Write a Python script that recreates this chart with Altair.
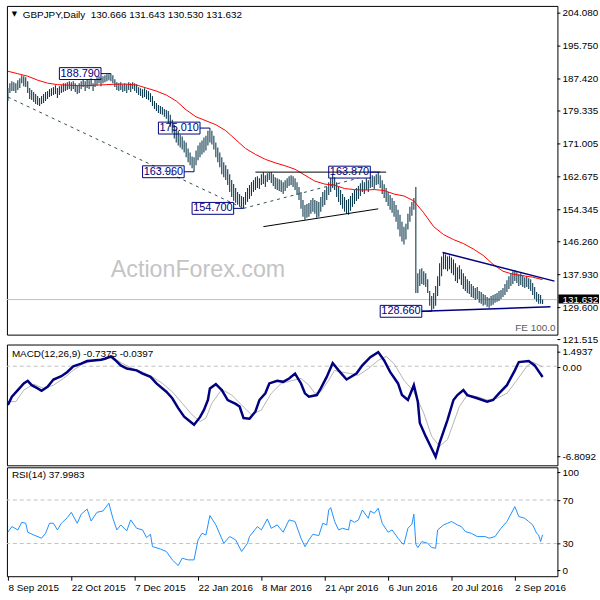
import json
import altair as alt
import pandas as pd

FONT = "Liberation Sans"
BAR_COLOR = "#0e3a4e"
NAVY = "#000080"

# ---------------- daily bars (bar 0 = 8 Sep 2015) ----------------
high = [
    185.12, 186.37, 186.87, 186.62, 186.37, 187.12, 187.62, 188.37, 188.12, 187.87,
    186.87, 185.12, 184.62, 184.12, 183.62, 183.12, 182.62, 183.12, 183.62, 184.12,
    184.37, 184.87, 185.12, 185.37, 185.87, 185.12, 185.62, 185.87, 186.37, 186.37,
    186.62, 186.87, 186.62, 186.87, 186.37, 185.87, 186.37, 186.87, 187.37, 186.87,
    187.37, 187.12, 187.62, 186.37, 187.37, 187.87, 188.12, 187.62, 188.12, 188.37,
    188.62, 188.62, 188.79, 188.37, 187.37, 186.62, 186.37, 186.62, 186.12, 186.37,
    186.12, 186.62, 186.37, 186.62, 186.37, 186.12,
    185.35, 185.10, 184.85, 185.10, 184.60, 184.35, 183.85, 183.10, 181.85, 181.35,
    180.85, 180.60, 180.35, 179.85, 179.60, 179.35, 178.35, 177.10, 175.85, 174.85,
    174.35, 173.35, 172.85, 171.85, 171.35, 169.85, 168.85, 167.85, 167.60, 169.35,
    170.60, 171.35, 171.85, 172.60, 173.10, 174.35, 175.01, 174.35, 173.10, 171.35,
    170.10, 168.85, 167.60, 166.35, 165.60, 164.60, 163.35, 161.85, 160.85, 159.85,
    158.85, 158.35, 157.85, 157.60, 158.85, 159.85, 160.60, 161.35, 161.85, 162.60,
    162.85, 162.35, 163.35, 163.85, 163.10, 163.60, 163.80, 163.85, 163.35, 162.60,
    162.35,
    162.08, 161.83, 161.33, 161.83, 162.33, 162.83, 163.08, 162.83, 162.33, 161.33,
    160.08, 158.83, 156.83, 155.58, 155.83, 156.08, 156.83, 157.33, 156.83, 156.58,
    156.33, 157.58, 158.83, 159.33, 160.08, 161.33, 162.33, 163.33, 162.58, 161.33,
    160.08, 159.33, 158.33, 157.58, 156.83, 157.08, 157.83, 158.58, 159.33, 159.83,
    160.33, 161.08, 161.83, 161.33, 162.33, 161.83, 162.58, 163.08, 162.83, 163.33,
    163.87, 163.08, 161.83, 160.83, 159.83, 158.83, 158.08, 157.33, 156.58, 155.58,
    154.33, 153.08, 151.33, 150.08, 150.83, 153.33, 155.08, 156.33, 157.33, 160.08,
    138.30, 139.30, 139.55, 138.80, 138.30, 136.80, 133.80, 132.55, 133.30, 135.05,
    137.55, 140.80, 142.55, 143.55, 143.05, 142.55, 142.80, 142.30, 141.80, 140.80,
    139.80, 140.30, 139.30, 138.30, 137.55, 136.80, 136.30, 135.55, 135.05, 134.55,
    134.80, 133.80, 133.55, 133.05, 132.80, 132.30, 132.05, 132.55, 132.80, 133.05,
    133.30, 133.80, 134.05, 134.55, 135.55, 136.55, 137.55, 138.30, 138.80, 139.05,
    138.55, 138.05, 138.30, 137.80, 137.30, 137.55, 137.05, 136.80, 135.80, 134.80,
    133.55, 133.05, 132.80, 131.643,
]
low = [
    181.87, 183.87, 184.37, 184.37, 183.87, 184.62, 185.12, 186.37, 185.62, 185.37,
    183.87, 182.37, 182.12, 181.62, 181.12, 180.87, 180.62, 181.12, 181.37, 181.87,
    182.37, 182.87, 183.12, 183.37, 183.62, 182.62, 183.37, 183.87, 184.12, 184.37,
    184.62, 184.87, 184.37, 184.87, 184.12, 183.62, 183.87, 184.87, 185.37, 184.37,
    185.12, 184.87, 185.62, 184.37, 185.37, 185.87, 186.37, 185.62, 186.37, 186.62,
    186.87, 187.12, 186.87, 186.37, 185.37, 184.62, 184.37, 184.62, 184.12, 184.37,
    183.87, 184.62, 184.12, 184.87, 184.37, 183.87,
    183.35, 183.10, 182.60, 182.85, 182.35, 182.10, 181.60, 180.60, 179.85, 179.35,
    178.85, 178.60, 178.35, 177.85, 177.35, 176.35, 175.35, 173.85, 172.35, 171.35,
    170.60, 170.10, 169.60, 168.85, 167.60, 166.35, 165.60, 164.85, 163.96, 165.60,
    166.85, 167.60, 168.35, 168.85, 169.35, 170.60, 171.35, 170.85, 169.60, 167.60,
    166.35, 165.10, 163.35, 162.60, 161.85, 160.60, 158.85, 157.60, 156.60, 156.10,
    155.60, 155.10, 155.10, 154.70, 155.60, 156.35, 157.10, 157.85, 158.85, 159.35,
    159.85, 159.60, 160.60, 160.85, 160.10, 161.35, 161.85, 161.10, 160.35, 159.60,
    159.35,
    159.08, 158.83, 158.33, 159.08, 159.83, 160.33, 160.58, 160.08, 159.33, 158.08,
    156.83, 154.58, 152.58, 151.83, 152.33, 152.58, 153.33, 153.83, 153.33, 152.33,
    152.58, 153.83, 155.08, 155.58, 156.83, 158.08, 158.83, 159.83, 159.33, 157.58,
    156.33, 155.58, 154.58, 153.83, 153.33, 153.08, 154.08, 155.08, 155.83, 156.58,
    157.08, 157.83, 158.83, 158.33, 159.33, 158.83, 159.83, 160.08, 159.58, 160.58,
    160.83, 159.83, 158.33, 157.33, 156.33, 155.33, 154.33, 153.58, 152.58, 151.33,
    149.33, 147.58, 146.33, 145.58, 146.83, 149.33, 151.33, 152.83, 154.33, 133.30,
    133.30, 135.05, 135.55, 135.30, 134.80, 133.30, 130.05, 128.66, 129.30, 130.05,
    132.55, 135.05, 137.55, 139.30, 139.30, 138.80, 139.30, 138.30, 137.80, 136.30,
    135.80, 136.80, 135.30, 134.30, 133.80, 133.30, 133.05, 132.30, 132.05, 131.55,
    131.80, 130.80, 130.55, 130.05, 130.30, 129.80, 129.55, 130.05, 130.30, 130.80,
    131.05, 131.30, 131.80, 132.30, 132.80, 133.55, 134.30, 135.05, 135.55, 136.30,
    135.80, 135.05, 135.30, 134.80, 134.55, 134.80, 134.30, 133.80, 132.80, 131.80,
    131.05, 130.55, 130.55, 130.53,
]
last_close = 131.632

# ---------------- moving average (red) ----------------
ma_bar = list(range(0, 271, 5))
ma_val = [
    189.38, 188.76, 188.13, 187.13, 186.38, 186.00, 185.88, 185.75, 185.75, 185.88,
    186.00, 186.13, 186.13, 185.88, 185.13, 184.37, 183.37, 181.87, 179.62, 177.86,
    176.86, 175.86, 174.36, 172.10, 169.85, 168.35, 167.10, 166.22, 165.47, 164.59,
    163.09, 161.59, 160.84, 160.58, 159.71, 159.46, 159.33, 159.46, 159.21, 158.33,
    157.83, 156.58, 153.57, 150.07, 148.07, 146.81, 145.81, 144.43, 142.81, 140.55,
    138.80, 138.05, 137.67, 137.30, 136.67,
]

# ---------------- MACD(12,26,9) ----------------
macd_bar = [0, 2, 5, 8, 10, 12, 15, 17, 20, 23, 27, 30, 33, 37, 40, 43, 47, 49, 52, 54,
            57, 60, 65, 68, 72, 75, 80, 83, 86, 89, 92, 94, 97, 99, 101, 102, 105, 108, 111, 115,
            117, 119, 122, 125, 127, 130, 132, 136, 139, 142, 145, 148, 150, 152, 156, 158, 161, 164, 167, 171,
            176, 179, 183, 187, 190, 193, 197, 199, 202, 205, 207, 208, 211, 213, 216, 218, 222, 225, 227, 230,
            232, 237, 242, 245, 248, 252, 256, 258, 263, 266, 270]
macd_val = [-2.66, -2.09, -1.64, -1.18, -1.00, -1.30, -1.52, -1.69, -1.41, -0.91, -0.68, -0.39, 0.00, 0.18, 0.36, 0.40, 0.45, 0.52, 0.68, 0.45,
            0.06, -0.16, -0.28, -0.50, -0.73, -1.18, -1.75, -2.20, -2.88, -3.46, -3.80, -4.02, -3.50, -3.00, -2.32, -1.52, -1.23, -1.64, -2.32, -2.59,
            -2.77, -3.56, -3.61, -3.11, -2.32, -1.86, -1.18, -1.00, -1.07, -0.84, -0.50, -1.18, -1.86, -2.09, -1.98, -1.52, -0.73, 0.22, -0.28, -0.91,
            -0.50, 0.06, 0.63, 0.97, 0.40, -0.39, -1.18, -1.98, -2.32, -1.30, -2.43, -3.90, -4.82, -5.38, -6.22, -5.27, -3.68, -2.32, -1.98, -1.64,
            -1.98, -2.20, -2.43, -2.32, -1.86, -1.30, -0.28, 0.29, 0.36, 0.06, -0.7375]
sig_bar = [0, 4, 8, 13, 18, 23, 28, 33, 38, 43, 48, 53, 58, 63, 68, 73, 78, 83, 88, 93,
           97, 100, 103, 108, 113, 118, 123, 128, 133, 138, 143, 148, 152, 155, 158, 162, 165, 168, 173, 177,
           182, 187, 191, 195, 200, 205, 210, 214, 218, 222, 225, 228, 232, 237, 242, 247, 252, 257, 262, 265, 270]
sig_val = [-2.43, -2.43, -1.64, -1.23, -1.52, -1.30, -0.84, -0.28, 0.18, 0.36, 0.47, 0.59, 0.18, -0.16, -0.39, -0.73, -1.18, -1.75, -2.54, -3.34,
           -3.80, -3.56, -2.54, -1.59, -1.98, -2.66, -3.34, -3.00, -1.86, -1.18, -1.00, -0.84, -1.30, -1.86, -1.75, -0.96, -0.28, -0.39, -0.50, -0.62,
           -0.16, 0.40, 0.68, 0.18, -0.96, -1.75, -3.22, -4.82, -5.50, -5.04, -3.90, -2.77, -1.98, -2.09, -2.32, -2.20, -1.86, -0.96, -0.02, 0.29, -0.0397]

# ---------------- RSI(14) ----------------
rsi_bar = [0, 2, 5, 7, 9, 10, 13, 17, 19, 21, 23, 25, 27, 30, 32, 35, 37, 40, 42, 45,
           48, 51, 53, 55, 57, 60, 62, 65, 68, 70, 72, 73, 77, 80, 83, 86, 88, 91, 94, 96,
           98, 100, 102, 105, 109, 112, 115, 118, 121, 122, 126, 128, 131, 133, 136, 139, 142, 145, 148, 150,
           152, 154, 157, 159, 161, 162, 163, 165, 167, 169, 172, 173, 175, 177, 179, 182, 183, 185, 187, 189,
           192, 194, 197, 199, 200, 202, 204, 205, 206, 207, 209, 212, 214, 216, 217, 220, 222, 224, 227, 229,
           231, 234, 237, 241, 243, 246, 249, 252, 256, 258, 261, 263, 265, 267, 268, 269, 270]
rsi_val = [40.4, 45.6, 42.5, 49.5, 48.6, 40.4, 37.9, 34.9, 39.4, 48.6, 48.6, 42.5, 48.6, 53.8, 58.7, 48.6, 56.9, 61.7, 50.7, 58.7,
           59.9, 67.0, 53.2, 42.5, 47.1, 41.6, 51.7, 44.0, 42.5, 35.5, 38.5, 27.2, 25.0, 22.7, 15.0, 9.8, 16.5, 15.0, 15.0, 33.3,
           39.4, 37.9, 55.7, 47.1, 30.3, 36.4, 33.3, 22.7, 30.3, 36.4, 45.6, 42.5, 52.6, 44.0, 47.1, 40.4, 51.7, 50.2, 34.9, 27.2,
           33.3, 38.5, 37.3, 48.6, 47.1, 60.8, 63.0, 50.2, 42.5, 44.0, 42.5, 51.7, 49.5, 51.7, 60.8, 53.2, 59.9, 57.8, 62.4, 48.6,
           40.4, 42.5, 34.9, 30.3, 29.4, 44.0, 47.7, 56.9, 29.4, 26.3, 31.8, 30.3, 26.3, 25.7, 42.5, 47.1, 48.6, 50.2, 47.1, 45.6,
           41.0, 39.4, 36.4, 36.4, 34.9, 36.4, 44.0, 50.2, 63.9, 54.8, 53.2, 50.2, 47.1, 39.4, 37.9, 31.8, 37.9983]

# ---------------- annotations ----------------
ann_text = ["188.790", "175.010", "163.960", "154.700", "163.870", "128.660"]
ann_price = [188.79, 175.01, 163.96, 154.70, 163.87, 128.66]
ann_bar = [52, 102, 94, 119, 188, 214]

# trend lines: start bar, start price, end bar, end price
tl_b1 = [0, 119, 129, 125, 219.5, 209]
tl_p1 = [182.85, 154.70, 150.08, 163.87, 143.55, 128.66]
tl_b2 = [119, 177, 187, 191, 276, 274]
tl_p2 = [154.70, 162.34, 154.58, 163.87, 136.30, 129.80]
tl_color = ["#2f4f4f", "#2f4f4f", "#000000", "#000000", NAVY, NAVY]
tl_dash = [[3, 4], [3, 4], [], [], [], []]
tl_width = [1, 1, 1, 1, 1.5, 1.5]

price_lbl_val = [204.080, 195.750, 187.420, 179.335, 171.005, 162.675,
                 154.345, 146.260, 137.930, 129.600, 121.515]

macd_lbl_val = [1.4937, 0.0, -6.8092]
macd_lbl_txt = ["1.4937", "0.00", "-6.8092"]
rsi_lbl_val = [100, 70, 30, 0]
rsi_lbl_txt = ["100", "70", "30", "0"]
rsi_levels = [70, 30]

date_bars = [0, 32, 64, 96, 128, 160, 192, 224, 256]
date_labels = ["8 Sep 2015", "22 Oct 2015", "7 Dec 2015", "22 Jan 2016", "8 Mar 2016",
               "21 Apr 2016", "6 Jun 2016", "20 Jul 2016", "2 Sep 2016"]

main_title = "GBPJPY,Daily\u00a0\u00a0130.666 131.643 130.530 131.632"
macd_title = "MACD(12,26,9) -0.7375 -0.0397"
rsi_title = "RSI(14) 37.9983"

# ---------------- styling / layout ----------------
W = 556
H_MAIN, H_MACD, H_RSI = 332, 122, 110
X_DOMAIN = [-0.5, 277.5]
xs = alt.Scale(domain=X_DOMAIN, nice=False, zero=False)
ys_main = alt.Scale(domain=[122.763, 205.908], nice=False, zero=False)
ys_macd = alt.Scale(domain=[-6.8092, 1.4937], nice=False, zero=False)
ys_rsi = alt.Scale(domain=[0, 100], nice=False, zero=False)
macd_lbl_dy = [7.7, 1.3, -8.7]
rsi_lbl_dy = [5.3, 0.7, 0.3, -5.7]


def vtext(txt, x, y, **kw):
    return alt.Chart(pd.DataFrame({"t": [txt]})).mark_text(**kw).encode(
        x=alt.value(x), y=alt.value(y), text="t:N")


def scale_labels(vals, txts, dys, yscale):
    out = []
    for v, t, dy in zip(vals, txts, dys):
        d = pd.DataFrame({"v": [v], "t": [t]})
        out.append(alt.Chart(d).mark_rule(color="black", yOffset=dy).encode(
            x=alt.value(W), x2=alt.value(W + 3), y=alt.Y("v:Q", scale=yscale, axis=None)))
        out.append(alt.Chart(d).mark_text(font=FONT, fontSize=10, align="left", baseline="middle",
                                          color="black", dy=dy).encode(
            x=alt.value(W + 5), y=alt.Y("v:Q", scale=yscale, axis=None), text="t:N"))
    return out


# ================= main price panel =================
bars_df = pd.DataFrame([{"bar": k, "high": h, "low": l} for k, (h, l) in enumerate(zip(high, low))])
ma_df = pd.DataFrame({"bar": ma_bar, "ma": ma_val})

layers = []
layers.append(vtext("ActionForex.com", 193, 267, font=FONT, fontSize=23.5,
                    color="#c4c4c4", align="center", baseline="middle"))
layers += scale_labels(price_lbl_val, ["%.3f" % v for v in price_lbl_val],
                       [0] * len(price_lbl_val), ys_main)
layers.append(alt.Chart(pd.DataFrame({"p": [last_close]})).mark_rule(
    color="#c0c0c0", strokeWidth=1).encode(y=alt.Y("p:Q", scale=ys_main, axis=None)))
layers.append(alt.Chart(bars_df).mark_rule(color=BAR_COLOR, strokeWidth=1.1).encode(
    x=alt.X("bar:Q", scale=xs, axis=None),
    y=alt.Y("high:Q", scale=ys_main, axis=None),
    y2="low:Q"))
layers.append(alt.Chart(ma_df).mark_line(color="#ff0000", strokeWidth=1).encode(
    x=alt.X("bar:Q", scale=xs, axis=None), y=alt.Y("ma:Q", scale=ys_main, axis=None)))

for b1, p1, b2, p2, c, d, w in zip(tl_b1, tl_p1, tl_b2, tl_p2, tl_color, tl_dash, tl_width):
    kw = dict(color=c, strokeWidth=w)
    if d:
        kw["strokeDash"] = d
    layers.append(alt.Chart(pd.DataFrame({"b1": [b1], "p1": [p1], "b2": [b2], "p2": [p2]}))
                  .mark_rule(**kw).encode(
        x=alt.X("b1:Q", scale=xs, axis=None), x2="b2:Q",
        y=alt.Y("p1:Q", scale=ys_main, axis=None), y2="p2:Q"))

ann_df = pd.DataFrame({"t": ann_text, "p": ann_price, "b": ann_bar})
layers.append(alt.Chart(ann_df).mark_rule(color=NAVY, strokeWidth=1, xOffset=-10).encode(
    x=alt.X("b:Q", scale=xs, axis=None), x2="b:Q",
    y=alt.Y("p:Q", scale=ys_main, axis=None)))
layers.append(alt.Chart(ann_df).mark_rect(
    fill="white", fillOpacity=0, stroke=NAVY, strokeWidth=1,
    xOffset=-52, x2Offset=-10, yOffset=-6, y2Offset=6).encode(
    x=alt.X("b:Q", scale=xs, axis=None), x2="b:Q",
    y=alt.Y("p:Q", scale=ys_main, axis=None), y2="p:Q"))
layers.append(alt.Chart(ann_df).mark_text(
    font=FONT, fontSize=11, color=NAVY, align="center", baseline="middle", xOffset=-31).encode(
    x=alt.X("b:Q", scale=xs, axis=None), y=alt.Y("p:Q", scale=ys_main, axis=None), text="t:N"))

# current price box
cp_df = pd.DataFrame({"p": [last_close], "t": ["%.3f" % last_close]})
layers.append(alt.Chart(cp_df).mark_rect(color="black", yOffset=-5, y2Offset=4).encode(
    x=alt.value(W + 1), x2=alt.value(W + 42), y=alt.Y("p:Q", scale=ys_main, axis=None), y2="p:Q"))
layers.append(alt.Chart(cp_df).mark_text(font=FONT, fontSize=10, align="left", baseline="middle",
                                         color="white").encode(
    x=alt.value(W + 5), y=alt.Y("p:Q", scale=ys_main, axis=None), text="t:N"))

layers.append(vtext("\u25bc", 7.5, 8.5, font="DejaVu Sans", fontSize=7, color="black",
                    align="center", baseline="middle"))
layers.append(vtext(main_title, 16, 8.7, font=FONT, fontSize=10, color="black",
                    align="left", baseline="middle"))
layers.append(vtext("FE 100.0", 554, 325, font=FONT, fontSize=10, color="#505a64",
                    align="right", baseline="middle"))

main = alt.layer(*layers).properties(width=W, height=H_MAIN)

# ================= MACD panel =================
macd_df = pd.DataFrame({"bar": macd_bar, "v": macd_val})
sig_df = pd.DataFrame({"bar": sig_bar, "v": sig_val})
ml = [
    alt.Chart(pd.DataFrame({"z": [0.0]})).mark_rule(color="#c0c0c0", strokeDash=[4, 3]).encode(
        y=alt.Y("z:Q", scale=ys_macd, axis=None)),
    alt.Chart(sig_df).mark_line(color="#b4b4b4", strokeWidth=1).encode(
        x=alt.X("bar:Q", scale=xs, axis=None), y=alt.Y("v:Q", scale=ys_macd, axis=None)),
    alt.Chart(macd_df).mark_line(color=NAVY, strokeWidth=2.5).encode(
        x=alt.X("bar:Q", scale=xs, axis=None), y=alt.Y("v:Q", scale=ys_macd, axis=None)),
    vtext(macd_title, 5, 9.3, font=FONT, fontSize=10, color="black", align="left", baseline="middle"),
]
ml += scale_labels(macd_lbl_val, macd_lbl_txt, macd_lbl_dy, ys_macd)
macd = alt.layer(*ml).properties(width=W, height=H_MACD)

# ================= RSI panel =================
rsi_df = pd.DataFrame({"bar": rsi_bar, "v": rsi_val})
label_expr = json.dumps(date_labels) + "[round(datum.value / 32)]"
rl = [
    alt.Chart(pd.DataFrame({"lv": rsi_levels})).mark_rule(color="#c0c0c0", strokeDash=[4, 3]).encode(
        y=alt.Y("lv:Q", scale=ys_rsi, axis=None)),
    alt.Chart(rsi_df).mark_line(color="#1e90ff", strokeWidth=1).encode(
        x=alt.X("bar:Q", scale=xs,
                axis=alt.Axis(values=date_bars, labelExpr=label_expr, tickSize=4, labelAlign="left",
                              labelPadding=2, title=None, domain=False, grid=False,
                              labelFlush=False, labelOverlap=False, labelBound=False)),
        y=alt.Y("v:Q", scale=ys_rsi, axis=None)),
    vtext(rsi_title, 5, 7.7, font=FONT, fontSize=10, color="black", align="left", baseline="middle"),
]
rl += scale_labels(rsi_lbl_val, rsi_lbl_txt, rsi_lbl_dy, ys_rsi)
rsi = alt.layer(*rl).properties(width=W, height=H_RSI)

lower = alt.vconcat(macd, rsi, spacing=2, bounds="flush")
chart = alt.vconcat(main, lower, spacing=10, bounds="flush").properties(
    padding={"left": 2, "top": 2, "right": 0, "bottom": 0},
    background="white",
).configure_view(stroke="black", strokeWidth=1).configure_axis(
    labelFont=FONT, labelFontSize=10, labelColor="black", tickColor="black", tickWidth=1,
)

chart.save("out.html", embed_options={"renderer": "svg", "actions": False})
